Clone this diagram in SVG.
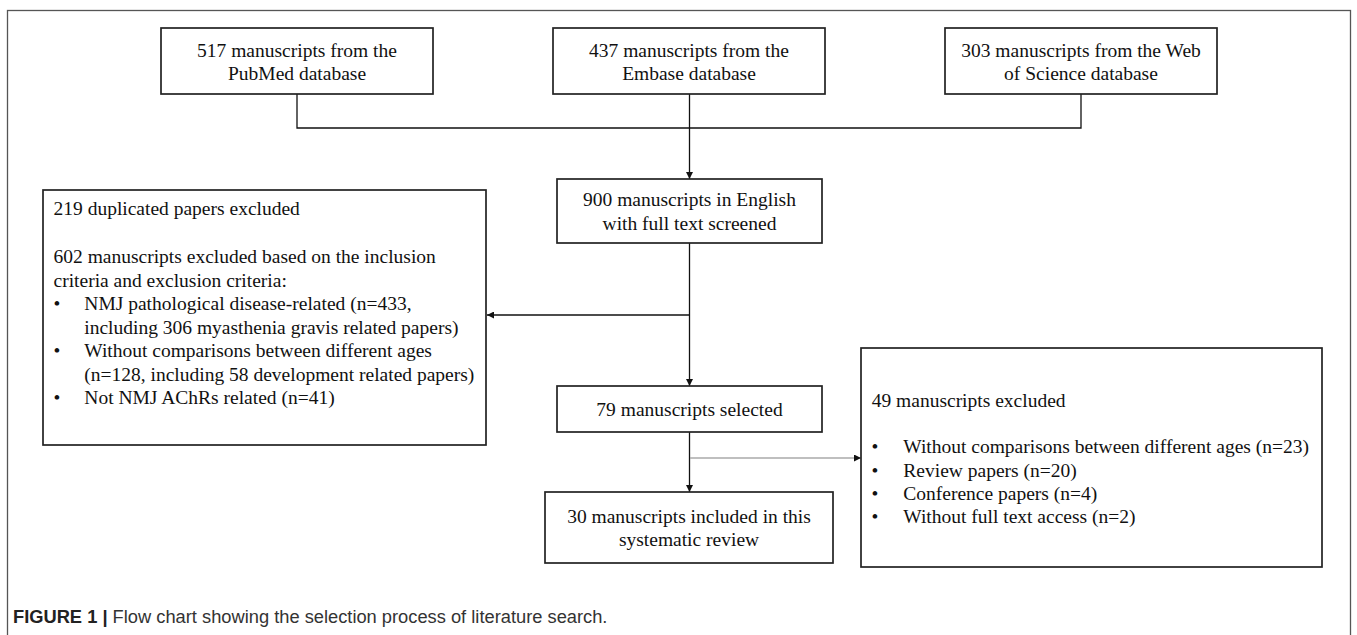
<svg xmlns="http://www.w3.org/2000/svg" width="1357" height="635" viewBox="0 0 1357 635">
<defs>
<style>
.box{fill:#fff;stroke:#222;stroke-width:1.7}
.t{font-family:"Liberation Serif","Times New Roman",serif;font-size:19.5px;fill:#111}
.c{text-anchor:middle}
.ln{fill:none;stroke:#111;stroke-width:1.3}
.gl{fill:none;stroke:#aaa;stroke-width:1.3}
.cap{font-family:"Liberation Sans",Arial,sans-serif;font-size:18.3px;fill:#333}
</style>
<marker id="ah" viewBox="0 0 10 10" refX="10" refY="5" markerWidth="7" markerHeight="7" markerUnits="userSpaceOnUse" orient="auto">
<path d="M0,0 L10,5 L0,10 z" fill="#111"/>
</marker>
</defs>
<rect x="0" y="0" width="1357" height="635" fill="#fff"/>
<rect x="7.5" y="10.5" width="1343" height="640" fill="none" stroke="#555" stroke-width="1.3"/>

<g id="connectors">
<polyline class="ln" points="297,94 297,128 1081,128 1081,94"/>
<line class="ln" x1="689.5" y1="94" x2="689.5" y2="179" marker-end="url(#ah)"/>
<line class="ln" x1="689.5" y1="243" x2="689.5" y2="386" marker-end="url(#ah)"/>
<line class="ln" x1="689.5" y1="315" x2="487" y2="315" marker-end="url(#ah)"/>
<line class="ln" x1="689.5" y1="432" x2="689.5" y2="492" marker-end="url(#ah)"/>
<line class="gl" x1="690" y1="458" x2="861" y2="458" marker-end="url(#ah)"/>
</g>

<g id="pubmed">
<rect class="box" x="161" y="28" width="272" height="66"/>
<text class="t c" x="297" y="57">517 manuscripts from the</text>
<text class="t c" x="297" y="80">PubMed database</text>
</g>

<g id="embase">
<rect class="box" x="553" y="28" width="272" height="66"/>
<text class="t c" x="689" y="57">437 manuscripts from the</text>
<text class="t c" x="689" y="80">Embase database</text>
</g>

<g id="wos">
<rect class="box" x="945" y="28" width="272" height="66"/>
<text class="t c" x="1081" y="57">303 manuscripts from the Web</text>
<text class="t c" x="1081" y="80">of Science database</text>
</g>

<g id="screened">
<rect class="box" x="557" y="179" width="265" height="64"/>
<text class="t c" x="689.5" y="206">900 manuscripts in English</text>
<text class="t c" x="689.5" y="230">with full text screened</text>
</g>

<g id="excluded1">
<rect class="box" x="43" y="190" width="443" height="255"/>
<text class="t" x="53.5" y="215">219 duplicated papers excluded</text>
<text class="t" x="53.5" y="263">602 manuscripts excluded based on the inclusion</text>
<text class="t" x="53.5" y="286.5">criteria and exclusion criteria:</text>
<text class="t" x="53.5" y="310">•</text>
<text class="t" x="84.3" y="310">NMJ pathological disease-related (n=433,</text>
<text class="t" x="84.3" y="333.5">including 306 myasthenia gravis related papers)</text>
<text class="t" x="53.5" y="357">•</text>
<text class="t" x="84.3" y="357">Without comparisons between different ages</text>
<text class="t" x="84.3" y="380.5">(n=128, including 58 development related papers)</text>
<text class="t" x="53.5" y="404">•</text>
<text class="t" x="84.3" y="404">Not NMJ AChRs related (n=41)</text>
</g>

<g id="selected">
<rect class="box" x="557" y="386" width="265" height="46"/>
<text class="t c" x="689.5" y="416">79 manuscripts selected</text>
</g>

<g id="included">
<rect class="box" x="545" y="492" width="288" height="71"/>
<text class="t c" x="689" y="523">30 manuscripts included in this</text>
<text class="t c" x="689" y="546">systematic review</text>
</g>

<g id="excluded2">
<rect class="box" x="861" y="348" width="461" height="219"/>
<text class="t" x="871.7" y="406.7">49 manuscripts excluded</text>
<text class="t" x="871.5" y="453.3">•</text>
<text class="t" x="903.3" y="453.3">Without comparisons between different ages (n=23)</text>
<text class="t" x="871.5" y="476.7">•</text>
<text class="t" x="903.3" y="476.7">Review papers (n=20)</text>
<text class="t" x="871.5" y="500">•</text>
<text class="t" x="903.3" y="500">Conference papers (n=4)</text>
<text class="t" x="871.5" y="523.3">•</text>
<text class="t" x="903.3" y="523.3">Without full text access (n=2)</text>
</g>

<text class="cap" x="13" y="622.5"><tspan font-weight="bold" fill="#222">FIGURE 1 | </tspan>Flow chart showing the selection process of literature search.</text>
</svg>
